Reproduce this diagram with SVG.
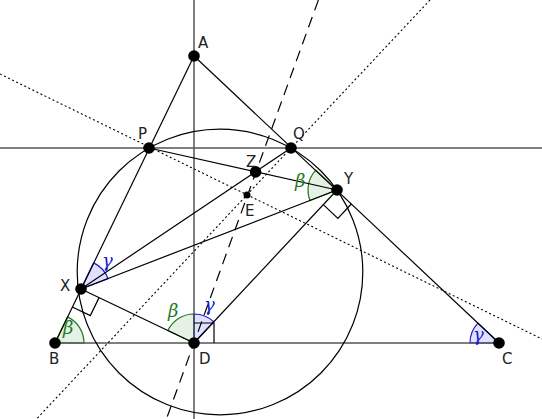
<svg xmlns="http://www.w3.org/2000/svg" width="542" height="419" viewBox="0 0 542 419">
<style>
.bg{fill:#fff}
.g{fill:rgba(0,120,0,0.1);stroke:#1f7a1f;stroke-width:1.2}
.b{fill:rgba(0,0,255,0.12);stroke:#1a1acc;stroke-width:1.2}
.ln{stroke:#000;stroke-width:1.2;fill:none}
.gr{stroke:#555;stroke-width:1.5;fill:none}
.dash{stroke:#000;stroke-width:1.2;stroke-dasharray:11 7;fill:none}
.dot{stroke:#000;stroke-width:1.1;stroke-dasharray:2 2.5;fill:none}
.ra{stroke:#000;stroke-width:1.2;fill:none}
.pt{fill:#000}
.lbl{font-family:"DejaVu Sans","Liberation Sans",sans-serif;font-size:15px;fill:#222}
.gl{font-family:"DejaVu Serif","Liberation Serif",serif;font-style:italic;font-size:18px}
.glg{fill:#1f7a1f}
.glb{fill:#1a1acc}
</style>
<rect class="bg" x="0" y="0" width="542" height="419"/>
<g id="angles">
<path class="g" d="M55,343 L84,343 A29,29 0 0 0 67.6,316.9 Z"/>
<path class="b" d="M81,289 L108.05,278.54 A29,29 0 0 0 93.65,262.9 Z"/>
<path class="g" d="M194,343 L167.83,330.5 A29,29 0 0 1 194,314 Z"/>
<path class="b" d="M194,343 L194,314 A29,29 0 0 1 213.8,321.8 Z"/>
<path class="g" d="M337,190 L309.95,200.46 A29,29 0 0 1 315.84,170.17 Z"/>
<path class="b" d="M499,343 L470,343 A29,29 0 0 1 477.88,323.13 Z"/>
</g>
<g id="connectors">
<line class="gr" x1="194" y1="0" x2="194" y2="419"/>
<line class="gr" x1="0" y1="148" x2="542" y2="148"/>
<line class="gr" x1="55" y1="343" x2="499" y2="343"/>
<circle class="ln" cx="220" cy="272" r="142.8"/>
<line class="ln" x1="194" y1="56" x2="55" y2="343"/>
<line class="ln" x1="194" y1="56" x2="499" y2="343"/>
<line class="ln" x1="149" y1="148" x2="337" y2="190"/>
<line class="ln" x1="81" y1="289" x2="291" y2="148"/>
<line class="ln" x1="81" y1="289" x2="337" y2="190"/>
<line class="ln" x1="81" y1="289" x2="194" y2="343"/>
<line class="ln" x1="194" y1="343" x2="337" y2="190"/>
<line class="dash" x1="318.4" y1="0" x2="166.4" y2="419"/>
<line class="dot" x1="0" y1="74" x2="542" y2="339"/>
<line class="dot" x1="430" y1="0" x2="36.5" y2="419"/>
<polyline class="ra" points="72.28,307 90.33,315.62 99.05,297.62"/>
<polyline class="ra" points="351.54,203.73 337.88,218.34 323.34,204.61"/>
<polyline class="ra" points="194,323 214,323 214,343"/>
</g>
<g id="A"><circle class="pt" cx="194" cy="56" r="5.8"/><text class="lbl" x="198" y="48">A</text></g>
<g id="P"><circle class="pt" cx="149" cy="148" r="5.8"/><text class="lbl" x="138" y="139">P</text></g>
<g id="Q"><circle class="pt" cx="291" cy="148" r="5.8"/><text class="lbl" x="293" y="139">Q</text></g>
<g id="Z"><circle class="pt" cx="255.6" cy="171.9" r="5.8"/><text class="lbl" x="246" y="167">Z</text></g>
<g id="Y"><circle class="pt" cx="337" cy="190" r="5.8"/><text class="lbl" x="344" y="184">Y</text></g>
<g id="E"><circle class="pt" cx="247" cy="195" r="3.5"/><text class="lbl" x="245" y="216">E</text></g>
<g id="X"><circle class="pt" cx="81" cy="289" r="5.8"/><text class="lbl" x="60" y="291">X</text></g>
<g id="B"><circle class="pt" cx="55" cy="343" r="5.8"/><text class="lbl" x="49" y="364">B</text></g>
<g id="D"><circle class="pt" cx="194" cy="343" r="5.8"/><text class="lbl" x="199" y="364">D</text></g>
<g id="C"><circle class="pt" cx="499" cy="343" r="5.8"/><text class="lbl" x="502" y="364">C</text></g>
<g id="angle-labels">
<text class="gl glg" x="63" y="334">β</text>
<text class="gl glg" x="168" y="317">β</text>
<text class="gl glg" x="295" y="187">β</text>
<text class="gl glb" x="204" y="311">γ</text>
<text class="gl glb" x="102" y="267">γ</text>
<text class="gl glb" x="473" y="341">γ</text>
</g>
</svg>
